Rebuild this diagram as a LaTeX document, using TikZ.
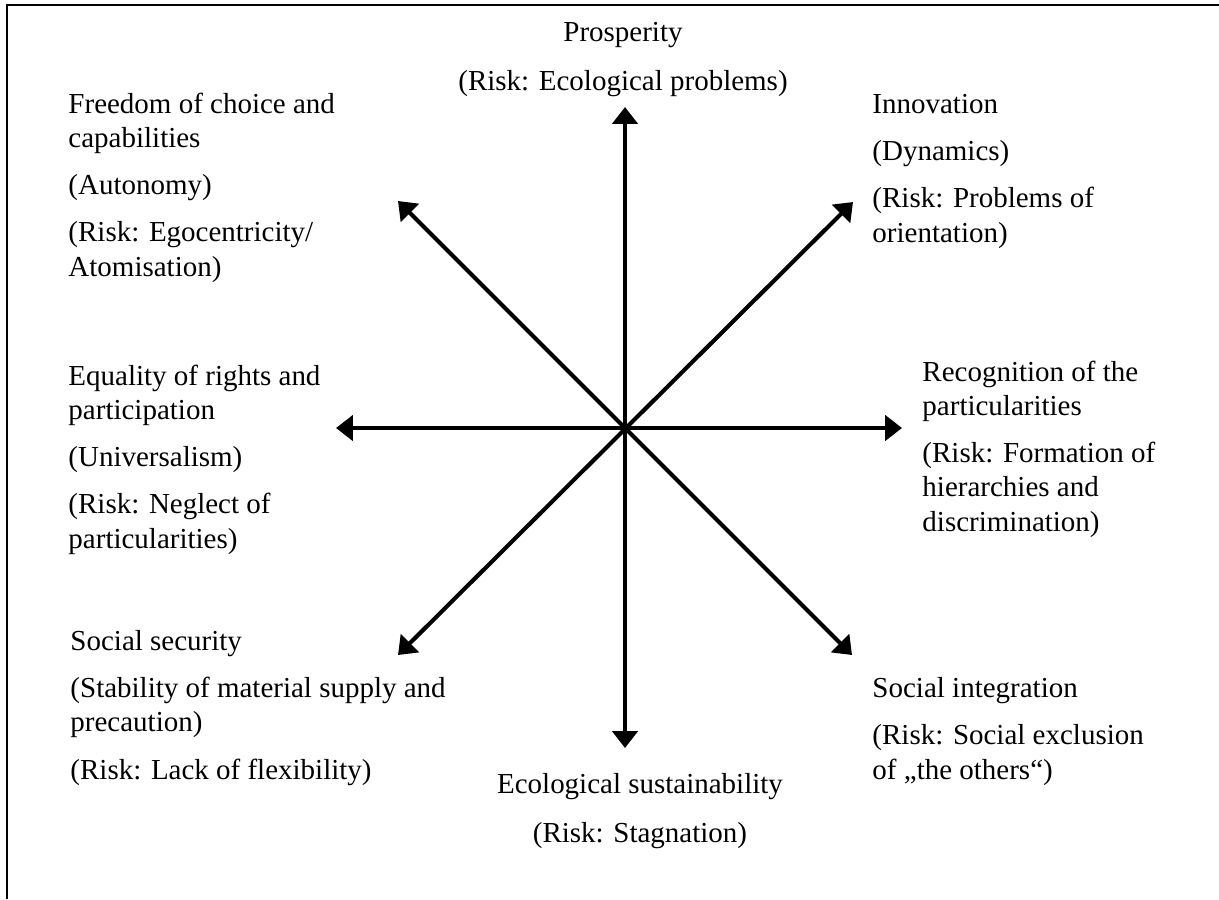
\documentclass[tikz,border=0pt]{standalone}
\usepackage{fontspec}
\setmainfont{Liberation Serif}
\usetikzlibrary{arrows.meta}

\begin{document}
\begin{tikzpicture}[x=0.414pt,y=-0.414pt]
\tikzset{
  axis/.style={line width=1.7pt, {Triangle[length=7pt,width=10.4pt]}-{Triangle[length=7pt,width=10.4pt]}},
  goal/.style={align=left, anchor=base west, inner sep=0pt, font=\fontsize{12}{14.1}\selectfont},
  midgoal/.style={align=center, anchor=base, inner sep=0pt, font=\fontsize{12}{14.1}\selectfont}
}
\useasboundingbox (0,0) rectangle (1219,899);
% frame
\draw [line width=0.85pt] (1219,5) -- (7,5) -- (7,899);
% arrow ends
\coordinate (o) at (625,428);
\coordinate (up) at (625,107);
\coordinate (down) at (625,748);
\coordinate (left) at (336,428);
\coordinate (right) at (902,428);
\coordinate (nw) at (398,201);
\coordinate (se) at (852,655);
\coordinate (ne) at (853,202);
\coordinate (sw) at (398,655);
\draw [axis] (up) -- (down);
\draw [axis] (left) -- (right);
\draw [axis] (nw) -- (se);
\draw [axis] (ne) -- (sw);
% goals (placed at the baseline of their last line)
\node [midgoal] (prosp) at (623,90) {Prosperity\\[5.8pt](Risk: Ecological problems)};
\node [goal] (freedom) at (68,276) {Freedom of choice and\\capabilities\\[5.4pt](Autonomy)\\[5.4pt](Risk: Egocentricity/\\Atomisation)};
\node [goal] (innov) at (872,242) {Innovation\\[5.4pt](Dynamics)\\[5.4pt](Risk: Problems of\\orientation)};
\node [goal] (recog) at (922,531) {Recognition of the\\particularities\\[5.4pt](Risk: Formation of\\hierarchies and\\discrimination)};
\node [goal] (equal) at (68,548) {Equality of rights and\\participation\\[5.4pt](Universalism)\\[5.4pt](Risk: Neglect of\\particularities)};
\node [goal] (secur) at (70,779) {Social security\\[5.4pt](Stability of material supply and\\precaution)\\[5.4pt](Risk: Lack of flexibility)};
\node [goal] (integr) at (872,779) {Social integration\\[5.4pt](Risk: Social exclusion\\of „the others“)};
\node [midgoal] (ecol) at (640,842) {Ecological sustainability\\[5.8pt](Risk: Stagnation)};
\end{tikzpicture}
\end{document}
